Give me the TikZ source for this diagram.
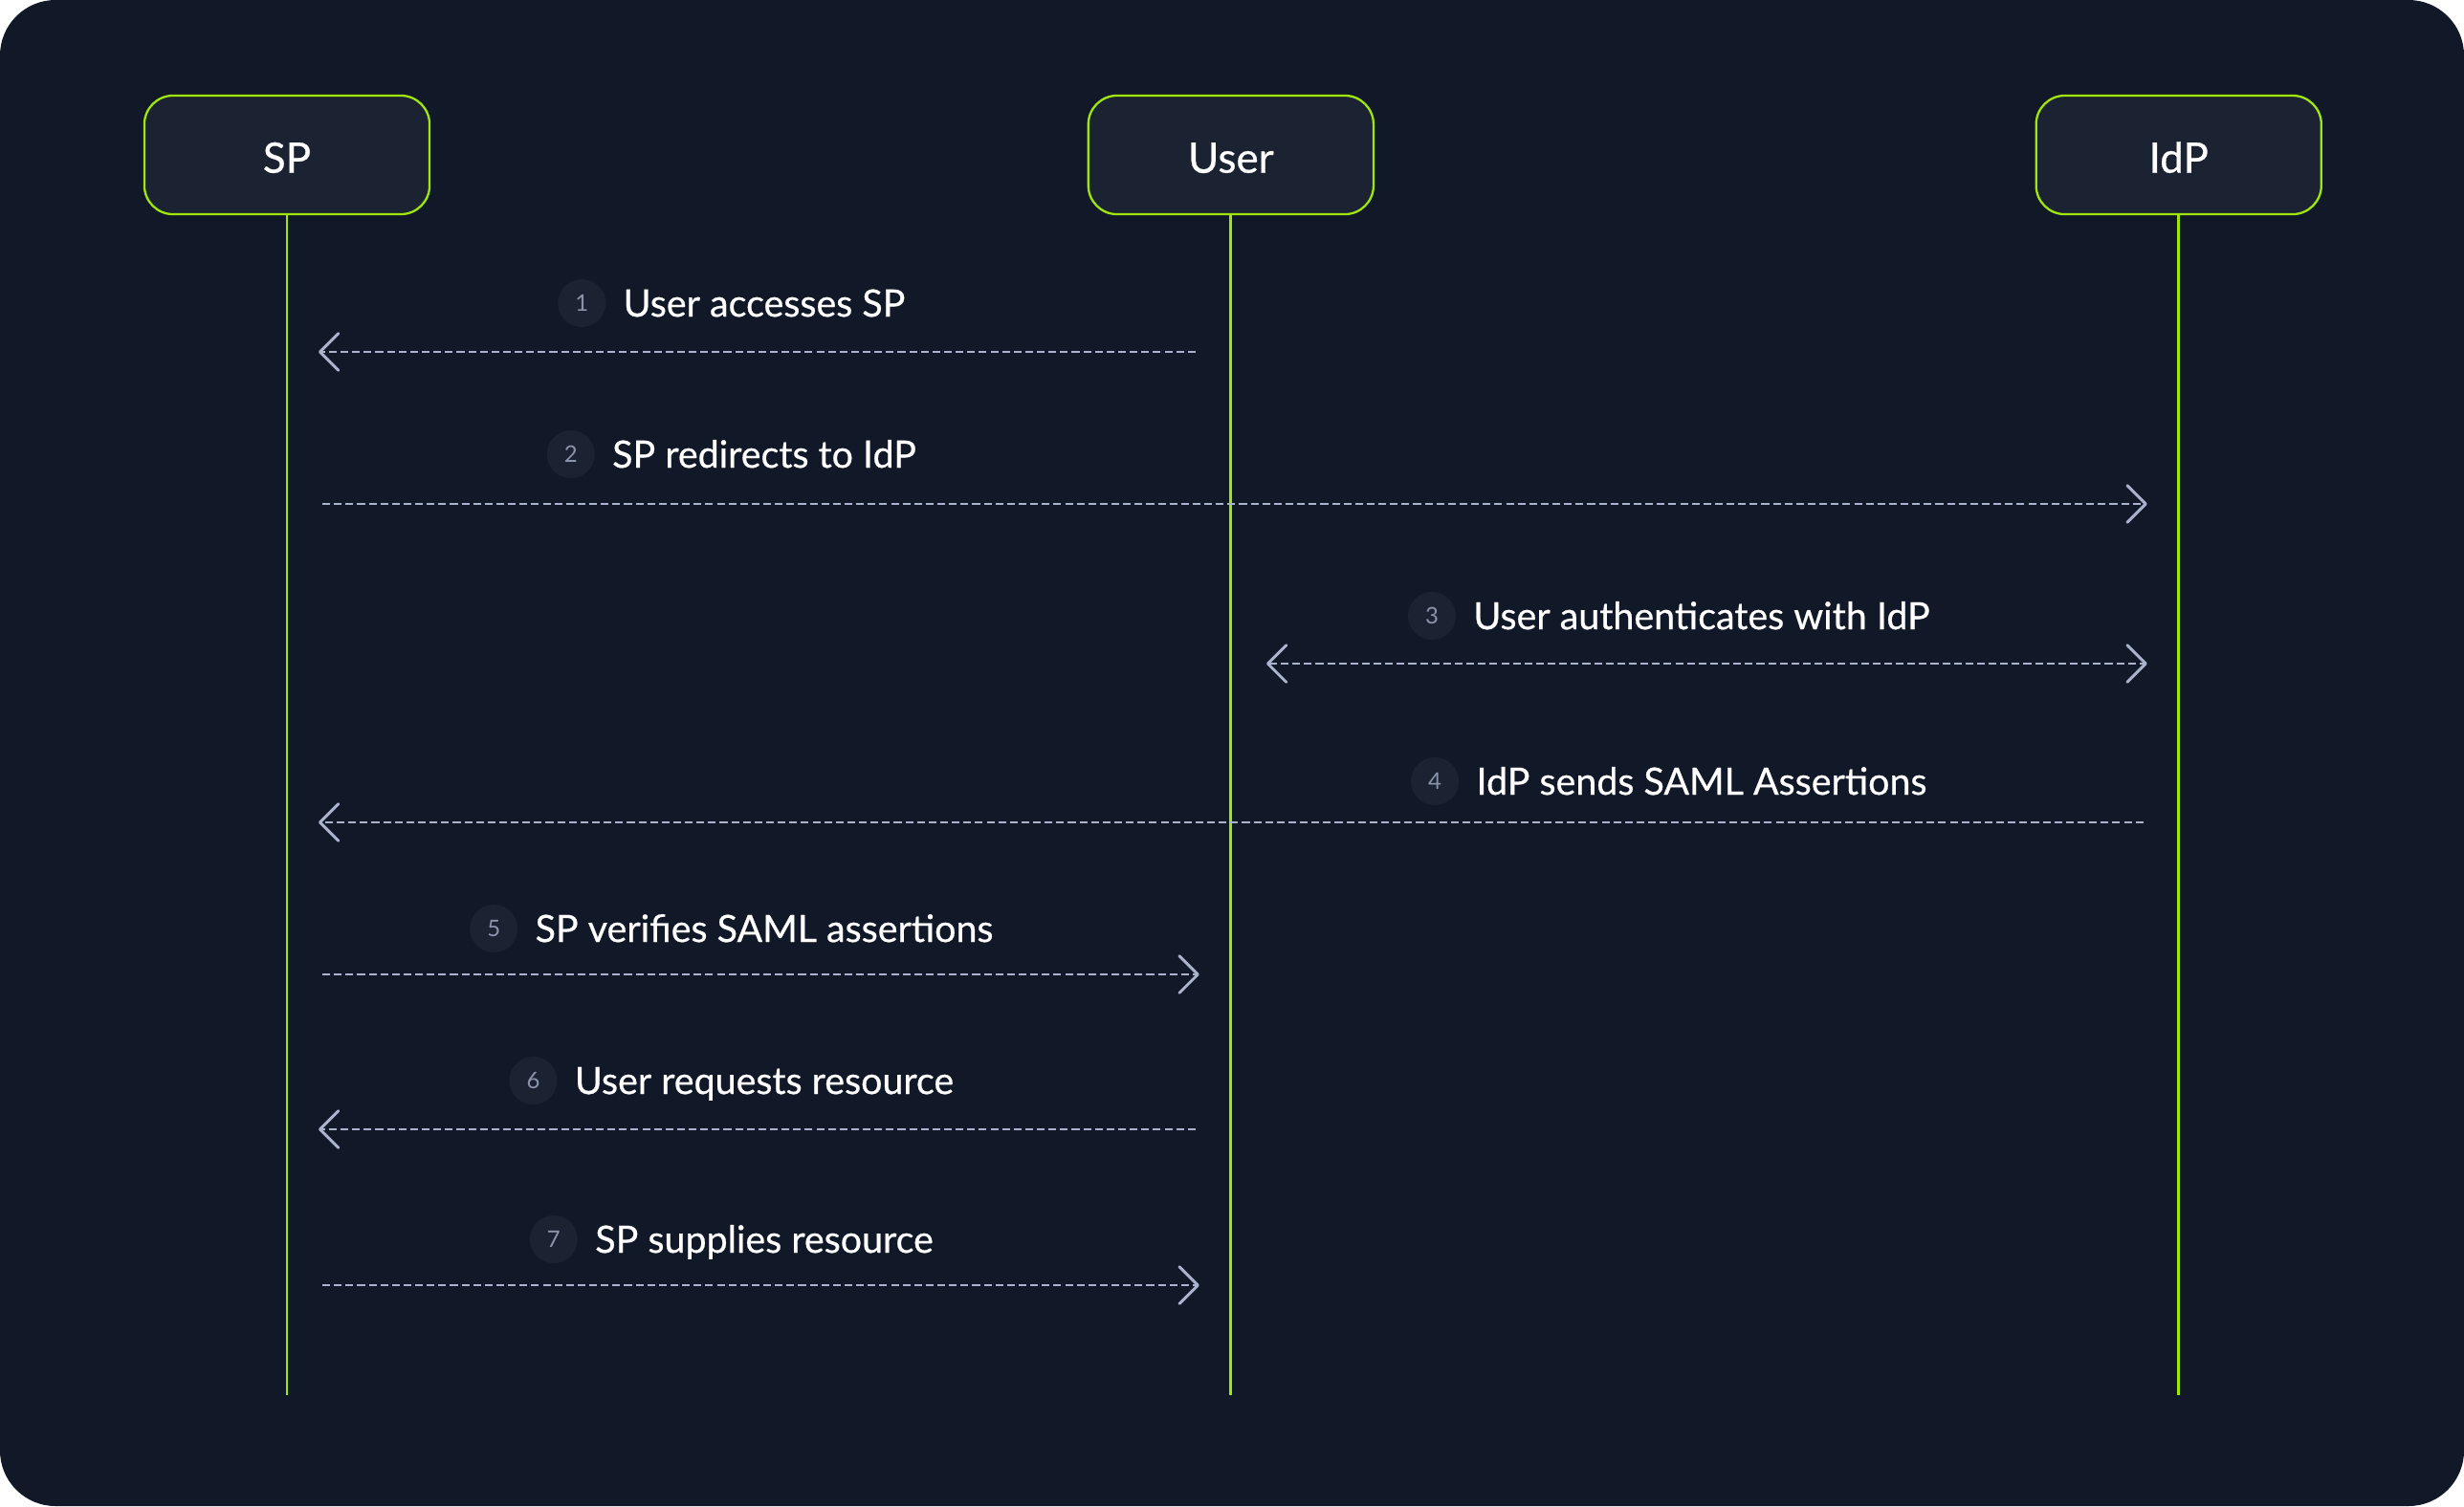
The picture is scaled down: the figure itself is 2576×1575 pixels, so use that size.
\documentclass[tikz,border=0pt]{standalone}
\usepackage{fontspec}
\setmainfont{Lato}
\newfontfamily\medfont{Lato}[FakeBold=0.6]
\usetikzlibrary{arrows.meta,positioning}

\definecolor{panel}{HTML}{111827}
\definecolor{boxfill}{HTML}{1B2332}
\definecolor{lime}{HTML}{A0E60A}
\definecolor{msggray}{HTML}{A9B3CB}
\definecolor{numgray}{HTML}{8A94AA}

\tikzset{
  actor/.style={draw=lime,fill=boxfill,line width=0.65pt,rounded corners=0.3cm,
    minimum width=2.98cm,minimum height=1.24cm,text=white,text height=10.6pt,text depth=0pt,
    font=\medfont\fontsize{12.5}{15}\selectfont},
  lifeline/.style={draw=lime,line width=0.85pt},
  msg/.style={draw=msggray,line width=0.55pt,dash pattern=on 2.3pt off 1.15pt,
    shorten >=0.33cm,shorten <=0.37cm},
  msglabel/.style={text=white,font=\medfont\fontsize{11.2}{14}\selectfont,inner sep=0pt,
    text height=8pt,text depth=0pt},
  stepdot/.style={circle,fill=boxfill,minimum size=0.5cm,inner sep=0pt,
    text=numgray,font=\fontsize{6.8}{8}\selectfont},
}

\begin{document}
\begin{tikzpicture}[x=0.01cm,y=-0.01cm,
    >={Straight Barb[length=5.5pt,width=11pt,line width=0.85pt,round]}]

  \fill[panel,rounded corners=0.58cm] (0,0) rectangle (2576,1575);

  \node[actor] (sp) at (300,162) {SP};
  \node[actor] (user) [right=6.86cm of sp] {User};
  \node[actor] (idp) [right=6.9cm of user] {IdP};

  \coordinate (bottom) at (0,1459);
  \draw[lifeline] (sp.south) -- (sp.south |- bottom);
  \draw[lifeline] (user.south) -- (user.south |- bottom);
  \draw[lifeline] (idp.south) -- (idp.south |- bottom);

  \coordinate (m1) at (0,368);
  \coordinate (m2) at (0,527);
  \coordinate (m3) at (0,694);
  \coordinate (m4) at (0,860);
  \coordinate (m5) at (0,1019);
  \coordinate (m6) at (0,1181);
  \coordinate (m7) at (0,1344);

  \draw[msg,->] (user |- m1) -- (sp |- m1);
  \draw[msg,->] (sp |- m2) -- (idp |- m2);
  \draw[msg,<->] (user |- m3) -- (idp |- m3);
  \draw[msg,->] (idp |- m4) -- (sp |- m4);
  \draw[msg,->] (sp |- m5) -- (user |- m5);
  \draw[msg,->] (user |- m6) -- (sp |- m6);
  \draw[msg,->] (sp |- m7) -- (user |- m7);

  \node[msglabel] (t1) at (799,317) {User accesses SP};
  \node[stepdot] (n1) [left=0.17cm of t1] {1};
  \node[msglabel] (t2) at (799,475) {SP redirects to IdP};
  \node[stepdot] (n2) [left=0.17cm of t2] {2};
  \node[msglabel] (t3) at (1779,644) {User authenticates with IdP};
  \node[stepdot] (n3) [left=0.17cm of t3] {3};
  \node[msglabel] (t4) at (1779,817) {IdP sends SAML Assertions};
  \node[stepdot] (n4) [left=0.17cm of t4] {4};
  \node[msglabel] (t5) at (799,971) {SP verifies SAML assertions};
  \node[stepdot] (n5) [left=0.17cm of t5] {5};
  \node[msglabel] (t6) at (799,1130) {User requests resource};
  \node[stepdot] (n6) [left=0.17cm of t6] {6};
  \node[msglabel] (t7) at (799,1296) {SP supplies resource};
  \node[stepdot] (n7) [left=0.17cm of t7] {7};
\end{tikzpicture}
\end{document}
